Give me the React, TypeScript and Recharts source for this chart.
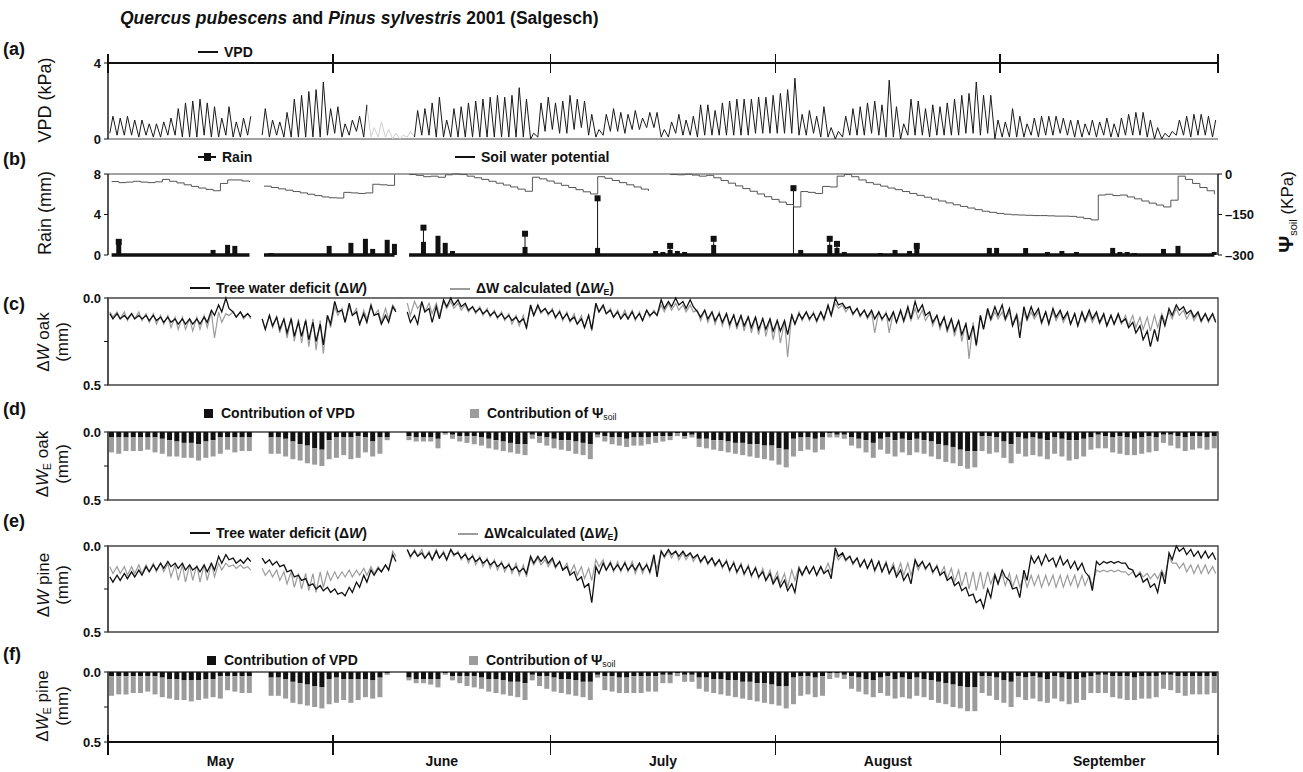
import React from "react";
import {
  ComposedChart,
  Line,
  Bar,
  XAxis,
  YAxis,
  ReferenceLine,
  ReferenceArea,
} from "recharts";

const FONT = '"Liberation Sans", Arial, Helvetica, sans-serif';
const INK = "#111";
const GREY = "#9c9c9c";
const FRAME = "#444";
const W = 1303;
const PLOT_LEFT = 108;
const PLOT_RIGHT = 1218;
const AXIS_W = 40;
const RIGHT_AXIS_W = 60;

const MONTHS = ["May", "June", "July", "August", "September"];
const MONTH_START = [0, 31, 61, 92, 123, 153];
const MONTH_MID = MONTHS.map((_, i) => (MONTH_START[i] + MONTH_START[i + 1]) / 2);
const END_DAY = 153;

// light grey stretch of the VPD record (days from 1 May)
const FAINT_FROM = 36;
const FAINT_TO = 41;

type Pair = [number, number] | null;

// (a) daily VPD peak and trough, kPa
const vpdMax: (number | null)[] = [
  1.2, 1.1, 1.2, 1.0, 1.0, 0.8, 0.8, 0.9, 1.1, 1.6,
  1.9, 2.0, 2.1, 1.9, 1.7, 1.1, 1.7, 0.9, 1.1, 1.2,
  null, 1.6, 1.0, 0.9, 1.4, 2.1, 2.3, 2.5, 2.6, 3.0,
  1.6, 1.7, 0.8, 1.0, 1.2, 1.8, 0.6, 0.9, 0.5, 0.3,
  0.2, 0.4, 1.5, 1.6, 1.9, 2.2, 1.0, 1.6, 1.7, 1.9,
  2.0, 2.1, 2.2, 2.3, 2.2, 2.3, 2.7, 2.1, 0.3, 1.9,
  2.2, 1.9, 2.0, 2.3, 2.1, 2.0, 1.3, 0.5, 1.3, 1.6,
  1.4, 1.3, 1.5, 1.1, 1.4, 1.4, 0.5, 0.9, 1.3, 1.0,
  1.2, 1.8, 1.8, 1.5, 1.9, 2.0, 2.1, 2.1, 2.1, 2.2,
  2.2, 2.3, 2.4, 2.6, 3.2, 1.3, 1.5, 1.2, 1.7, 0.6,
  0.4, 1.2, 1.6, 1.7, 1.9, 2.0, 1.8, 3.1, 1.7, 0.8,
  2.1, 2.0, 1.6, 1.8, 1.7, 1.9, 2.1, 2.3, 2.4, 3.0,
  2.3, 2.3, 1.0, 0.9, 1.6, 1.2, 0.8, 1.1, 1.2, 1.2,
  1.2, 1.1, 1.0, 1.0, 0.8, 1.0, 0.9, 1.1, 0.8, 1.1,
  1.3, 1.4, 1.4, 1.0, 0.6, 0.3, 0.4, 1.0, 1.2, 1.3,
  1.3, 1.2, 1.0,
];
const vpdMin: (number | null)[] = [
  0.3, 0.2, 0.2, 0.2, 0.1, 0.2, 0.1, 0.1, 0.2, 0.2,
  0.1, 0.1, 0.1, 0.2, 0.1, 0.1, 0.2, 0.1, 0.1, 0.2,
  null, 0.2, 0.1, 0.2, 0.1, 0.1, 0.1, 0.1, 0.1, 0.1,
  0.2, 0.3, 0.1, 0.2, 0.4, 0.1, 0.1, 0.1, 0.1, 0.0,
  0.0, 0.1, 0.1, 0.2, 0.2, 0.1, 0.1, 0.1, 0.1, 0.1,
  0.1, 0.1, 0.1, 0.1, 0.1, 0.1, 0.1, 0.1, 0.0, 0.1,
  0.4, 0.5, 0.3, 0.3, 0.5, 0.6, 0.2, 0.1, 0.2, 0.4,
  0.4, 0.3, 0.5, 0.5, 0.6, 0.6, 0.1, 0.1, 0.3, 0.2,
  0.2, 0.1, 0.2, 0.2, 0.2, 0.2, 0.2, 0.2, 0.2, 0.3,
  0.3, 0.3, 0.3, 0.3, 0.3, 0.2, 0.2, 0.3, 0.1, 0.1,
  0.0, 0.1, 0.2, 0.2, 0.2, 0.3, 0.2, 0.1, 0.1, 0.0,
  0.2, 0.2, 0.2, 0.1, 0.2, 0.2, 0.2, 0.2, 0.3, 0.3,
  0.2, 0.3, 0.0, 0.1, 0.1, 0.1, 0.1, 0.2, 0.1, 0.2,
  0.2, 0.3, 0.2, 0.1, 0.1, 0.2, 0.1, 0.2, 0.1, 0.1,
  0.2, 0.2, 0.2, 0.1, 0.0, 0.0, 0.1, 0.2, 0.2, 0.1,
  0.2, 0.2, 0.1,
];

// (b) soil water potential, kPa (daily)
const soilPsi: (number | null)[] = [
  -28, -32, -30, -27, -30, -32, -29, -20, -27, -33,
  -40, -46, -52, -57, -62, -35, -22, -22, -26, -30,
  null, -45, -50, -55, -60, -65, -70, -75, -80, -85,
  -88, -89, -68, -70, -72, -70, -38, -40, -42, -2,
  null, -2, -5, -10, -8, -12, -3, 0, -2, -8,
  -14, -20, -27, -34, -41, -48, -56, -64, -12, -18,
  -26, -34, -42, -50, -58, -66, -74, -10, -16, -24,
  -32, -40, -48, -56, -63, null, null, -2, -3, -1,
  -4, -8, -5, -14, -24, -34, -44, -54, -64, -74,
  -84, -94, -104, -113, -122, -65, -68, -72, -46, -48,
  -8, -2, -10, -22, -32, -38, -45, -52, -58, -65,
  -72, -79, -86, -93, -100, -107, -114, -120, -126, -132,
  -138, -142, -146, -149, -151, -152, -153, -154, -154, -155,
  -156, -156, -157, -160, -165, -170, -78, -75, -80, -78,
  -85, -92, -100, -108, -115, -122, -97, -8, -20, -35,
  -50, -62, -75,
];

// (b) rain, mm (daily blocks) and isolated peaks
const rainMm: (number | null)[] = [
  0, 1.1, 0, 0, 0, 0, 0, 0, 0, 0,
  0, 0, 0, 0, 0.5, 0, 1.0, 0.9, 0, 0,
  null, 0, 0.2, 0, 0, 0, 0, 0, 0, 0,
  0.9, 0, 0, 1.2, 0, 1.6, 0.6, 0, 1.5, 1.1,
  null, 0, 0, 1.3, 0, 1.9, 1.2, 0.4, 0, 0,
  0, 0, 0, 0, 0, 0, 0, 0.8, 0, 0,
  0, 0, 0, 0, 0, 0, 0, 0.7, 0, 0,
  0, 0, 0, 0, 0, 0.4, 0.3, 0.5, 0.4, 0.3,
  0.1, 0, 0, 1.0, 0, 0, 0, 0, 0, 0,
  0, 0, 0, 0, 0, 0.5, 0, 0, 0.1, 1.0,
  0.7, 0.3, 0, 0, 0, 0, 0.2, 0, 0.5, 0,
  0.4, 0.7, 0, 0, 0, 0, 0, 0, 0, 0,
  0, 0.7, 0.7, 0, 0, 0, 0.7, 0, 0, 0.3,
  0, 0.4, 0, 0.3, 0, 0, 0, 0, 0.7, 0.3,
  0.3, 0.2, 0, 0, 0, 0.6, 0, 0.9, 0, 0,
  0, 0, 0.3,
];
const rainPeakDay = [1, 43, 57, 67, 77, 83, 94, 99, 100, 111];
const rainPeakMm = [1.3, 2.7, 2.1, 5.6, 0.9, 1.6, 6.6, 1.6, 1.1, 0.9];

// (c) oak tree water deficit, daily [night, afternoon], mm
const oakObs: Pair[] = [
  [.09, .12], [.09, .12], [.10, .12], [.09, .12], [.10, .12], [.10, .13], [.10, .13], [.11, .14], [.11, .14], [.12, .15],
  [.12, .15], [.12, .15], [.12, .15], [.11, .14], [.07, .10], [.04, .08], [.00, .06], [.08, .11], [.08, .11], [.09, .11],
  null, [.12, .18], [.10, .16], [.11, .18], [.12, .20], [.12, .22], [.14, .22], [.13, .24], [.14, .25], [.15, .27],
  [.10, .15], [.02, .08], [.07, .14], [.03, .10], [.08, .15], [.09, .14], [.04, .10], [.09, .15], [.10, .14], [.05, .08],
  null, [.08, .14], [.10, .15], [.02, .08], [.06, .14], [.05, .12], [.01, .05], [.00, .04], [.01, .05], [.03, .07],
  [.05, .08], [.06, .09], [.07, .10], [.08, .11], [.09, .12], [.10, .13], [.11, .14], [.12, .17], [.04, .10], [.04, .08],
  [.06, .09], [.07, .11], [.08, .12], [.09, .13], [.11, .15], [.12, .17], [.10, .18], [.03, .08], [.04, .09], [.07, .11],
  [.08, .12], [.09, .12], [.08, .12], [.09, .13], [.07, .10], [.08, .10], [.01, .06], [.02, .05], [.00, .04], [.02, .06],
  [.01, .05], [.08, .11], [.07, .12], [.08, .13], [.09, .14], [.09, .15], [.10, .16], [.10, .16], [.11, .17], [.11, .18],
  [.12, .18], [.12, .19], [.13, .19], [.13, .21], [.10, .15], [.09, .12], [.08, .12], [.09, .13], [.08, .12], [.04, .10],
  [.00, .04], [.03, .06], [.05, .09], [.06, .10], [.07, .11], [.07, .12], [.08, .12], [.09, .13], [.08, .14], [.07, .13],
  [.05, .12], [.02, .08], [.04, .10], [.08, .14], [.10, .16], [.11, .18], [.12, .19], [.13, .21], [.15, .24], [.16, .27],
  [.10, .18], [.06, .12], [.05, .10], [.04, .12], [.06, .16], [.10, .23], [.05, .12], [.05, .10], [.06, .14], [.08, .15],
  [.06, .11], [.07, .12], [.08, .15], [.09, .16], [.08, .13], [.07, .12], [.08, .14], [.09, .16], [.10, .15], [.09, .14],
  [.12, .17], [.14, .20], [.16, .24], [.19, .28], [.18, .25], [.10, .16], [.06, .10], [.04, .07], [.05, .09], [.07, .11],
  [.08, .13], [.09, .13], [.09, .14],
];
const oakCalc: Pair[] = [
  [.08, .11], [.08, .12], [.08, .13], [.09, .12], [.08, .13], [.09, .14], [.09, .15], [.10, .15], [.10, .17], [.11, .18],
  [.11, .18], [.12, .19], [.11, .18], [.10, .17], [.08, .23], [.08, .14], [.09, .10], [.08, .11], [.08, .12], [.09, .12],
  null, [.12, .18], [.10, .17], [.11, .20], [.12, .23], [.11, .25], [.12, .26], [.12, .28], [.12, .30], [.13, .32],
  [.10, .17], [.05, .10], [.06, .14], [.05, .10], [.06, .16], [.07, .12], [.05, .10], [.07, .14], [.06, .12], [.04, .07],
  null, [.03, .10], [.02, .06], [.03, .08], [.03, .09], [.03, .10], [.02, .06], [.02, .06], [.03, .07], [.04, .08],
  [.05, .09], [.05, .10], [.06, .11], [.07, .12], [.08, .13], [.09, .15], [.10, .16], [.10, .18], [.05, .10], [.05, .09],
  [.06, .10], [.06, .12], [.07, .13], [.08, .14], [.09, .15], [.10, .17], [.10, .19], [.04, .08], [.05, .09], [.06, .11],
  [.07, .12], [.07, .12], [.07, .13], [.08, .13], [.07, .11], [.07, .10], [.04, .08], [.03, .07], [.03, .07], [.04, .08],
  [.04, .08], [.07, .13], [.07, .14], [.08, .15], [.08, .16], [.09, .17], [.09, .18], [.10, .19], [.10, .20], [.11, .21],
  [.11, .22], [.12, .24], [.12, .26], [.13, .34], [.09, .15], [.08, .13], [.08, .13], [.08, .14], [.08, .13], [.05, .10],
  [.03, .06], [.04, .08], [.05, .10], [.06, .11], [.07, .12], [.08, .20], [.08, .13], [.08, .20], [.08, .14], [.08, .14],
  [.07, .13], [.06, .12], [.07, .13], [.09, .16], [.10, .18], [.11, .20], [.12, .22], [.13, .25], [.14, .35], [.14, .28],
  [.10, .17], [.08, .13], [.08, .12], [.08, .13], [.08, .15], [.09, .16], [.08, .13], [.08, .12], [.08, .15], [.08, .14],
  [.08, .13], [.08, .14], [.09, .15], [.09, .16], [.09, .14], [.09, .14], [.09, .15], [.10, .16], [.10, .15], [.10, .15],
  [.10, .16], [.10, .17], [.11, .18], [.11, .19], [.10, .17], [.09, .14], [.08, .12], [.06, .10], [.07, .12], [.08, .13],
  [.09, .14], [.09, .14], [.09, .13],
];

// (d) oak modelled deficit split, mm
const oakVpd: (number | null)[] = [
  .04, .04, .04, .04, .04, .04, .04, .05, .06, .07,
  .08, .08, .09, .07, .06, .04, .04, .04, .04, .04,
  null, null, .04, .04, .05, .07, .09, .10, .12, .13,
  .06, .04, .04, .04, .03, .04, .07, .04, .04, null,
  null, .03, .04, .04, .04, .05, .01, .02, .03, .03,
  .03, .04, .05, .06, .07, .08, .09, .09, .02, .03,
  .04, .05, .06, .06, .07, .08, .09, .02, .03, .04,
  .04, .05, .04, .04, .04, .03, .03, .03, .01, .03,
  .02, .05, .05, .06, .06, .07, .08, .08, .09, .09,
  .10, .10, .12, .13, .05, .04, .04, .05, .04, .01,
  .02, .02, .04, .05, .06, .08, .05, .04, .06, .05,
  .06, .05, .06, .07, .09, .10, .11, .13, .14, .14,
  .03, .03, .04, .07, .09, .04, .05, .04, .05, .06,
  .04, .05, .06, .06, .05, .04, .02, .03, .04, .03,
  .04, .05, .04, .03, .04, .02, .02, .03, .04, .03,
  .03, .04, .03,
];
const oakSoil: (number | null)[] = [
  .11, .12, .10, .10, .10, .09, .11, .11, .12, .11,
  .11, .11, .12, .12, .12, .12, .09, .11, .10, .10,
  null, null, .12, .12, .13, .13, .12, .13, .12, .12,
  .14, .15, .13, .16, .16, .11, .11, .12, .02, null,
  null, .03, .03, .03, .03, .07, .01, .03, .04, .05,
  .06, .06, .07, .07, .07, .07, .07, .08, .03, .05,
  .06, .07, .07, .08, .09, .09, .11, .02, .04, .05,
  .06, .06, .06, .06, .05, .05, .04, .03, .02, .02,
  .02, .06, .07, .07, .08, .08, .08, .09, .09, .10,
  .10, .11, .12, .13, .13, .10, .09, .10, .09, .03,
  .02, .03, .06, .07, .09, .11, .08, .12, .12, .10,
  .11, .10, .10, .11, .11, .12, .12, .12, .13, .12,
  .11, .13, .11, .12, .14, .12, .13, .13, .13, .14,
  .12, .13, .15, .14, .13, .09, .10, .09, .11, .13,
  .13, .12, .12, .12, .10, .06, .08, .09, .10, .10,
  .09, .09, .09,
];

// (e) pine tree water deficit, daily [night, afternoon], mm
const pineObs: Pair[] = [
  [.18, .21], [.17, .20], [.16, .19], [.15, .18], [.14, .17], [.12, .15], [.11, .14], [.10, .13], [.09, .12], [.10, .13],
  [.10, .14], [.11, .14], [.12, .15], [.11, .15], [.10, .14], [.06, .10], [.05, .08], [.07, .10], [.08, .10], [.07, .09],
  null, [.07, .10], [.08, .11], [.09, .12], [.11, .15], [.14, .18], [.17, .20], [.19, .23], [.22, .25], [.23, .26],
  [.24, .27], [.25, .28], [.27, .29], [.24, .27], [.21, .24], [.17, .21], [.14, .17], [.13, .15], [.11, .14], [.05, .09],
  null, [.02, .06], [.03, .06], [.04, .07], [.04, .08], [.03, .07], [.04, .08], [.02, .05], [.04, .07], [.05, .08],
  [.06, .09], [.07, .10], [.08, .11], [.09, .12], [.10, .13], [.11, .14], [.12, .15], [.13, .16], [.06, .10], [.06, .09],
  [.06, .10], [.07, .12], [.09, .14], [.12, .17], [.15, .20], [.18, .24], [.22, .33], [.12, .16], [.10, .14], [.10, .14],
  [.11, .14], [.10, .14], [.11, .14], [.10, .14], [.11, .15], [.05, .18], [.03, .06], [.02, .05], [.03, .06], [.03, .06],
  [.04, .07], [.05, .09], [.06, .10], [.07, .11], [.08, .12], [.09, .14], [.10, .15], [.11, .16], [.12, .17], [.13, .18],
  [.15, .20], [.16, .22], [.18, .24], [.20, .26], [.22, .27], [.13, .17], [.12, .16], [.12, .17], [.12, .16], [.14, .19],
  [.01, .06], [.04, .08], [.06, .10], [.07, .12], [.08, .13], [.08, .14], [.09, .15], [.10, .16], [.12, .18], [.14, .20],
  [.16, .22], [.08, .12], [.09, .13], [.10, .15], [.12, .17], [.15, .20], [.18, .23], [.21, .26], [.24, .29], [.28, .33],
  [.31, .36], [.25, .30], [.17, .22], [.14, .18], [.20, .25], [.24, .30], [.14, .20], [.06, .10], [.06, .11], [.05, .09],
  [.07, .12], [.06, .11], [.08, .13], [.09, .14], [.10, .15], [.18, .26], [.09, .11], [.09, .10], [.09, .10], [.09, .10],
  [.10, .13], [.14, .18], [.16, .21], [.19, .24], [.22, .27], [.15, .22], [.04, .08], [.00, .03], [.01, .05], [.02, .06],
  [.03, .07], [.03, .07], [.04, .08],
];
const pineCalc: Pair[] = [
  [.12, .16], [.12, .16], [.12, .17], [.12, .16], [.11, .16], [.11, .15], [.10, .15], [.10, .15], [.10, .18], [.11, .20],
  [.11, .21], [.11, .20], [.11, .21], [.11, .20], [.10, .18], [.10, .14], [.10, .12], [.11, .13], [.11, .13], [.12, .14],
  null, [.13, .17], [.14, .18], [.14, .20], [.15, .22], [.15, .24], [.16, .25], [.16, .26], [.16, .27], [.15, .24],
  [.15, .20], [.15, .19], [.15, .18], [.14, .18], [.14, .17], [.13, .17], [.12, .16], [.12, .15], [.11, .14], [.03, .06],
  null, [.02, .07], [.02, .06], [.02, .07], [.03, .08], [.02, .07], [.03, .08], [.02, .06], [.03, .08], [.04, .10],
  [.05, .11], [.06, .12], [.07, .13], [.08, .14], [.09, .15], [.10, .16], [.10, .17], [.11, .18], [.07, .11], [.07, .11],
  [.08, .12], [.08, .13], [.09, .14], [.10, .16], [.11, .17], [.12, .19], [.13, .20], [.08, .12], [.08, .14], [.09, .15],
  [.09, .15], [.09, .15], [.09, .16], [.10, .16], [.10, .16], [.08, .13], [.03, .07], [.03, .07], [.03, .08], [.04, .08],
  [.04, .09], [.05, .10], [.06, .11], [.07, .12], [.08, .13], [.08, .15], [.09, .16], [.10, .17], [.11, .18], [.12, .19],
  [.13, .20], [.14, .21], [.15, .22], [.16, .24], [.14, .20], [.12, .16], [.12, .16], [.12, .17], [.12, .16], [.10, .15],
  [.04, .08], [.05, .09], [.06, .11], [.07, .12], [.08, .13], [.08, .15], [.09, .15], [.09, .16], [.10, .17], [.10, .17],
  [.10, .17], [.09, .14], [.09, .14], [.10, .16], [.11, .17], [.12, .19], [.13, .21], [.14, .23], [.15, .25], [.15, .26],
  [.15, .25], [.15, .22], [.16, .22], [.16, .23], [.16, .24], [.17, .24], [.17, .24], [.17, .23], [.17, .24], [.17, .23],
  [.17, .24], [.17, .24], [.17, .23], [.17, .24], [.17, .23], [.17, .23], [.14, .15], [.14, .15], [.14, .15], [.14, .15],
  [.15, .17], [.15, .18], [.15, .18], [.16, .19], [.16, .19], [.14, .18], [.06, .10], [.10, .13], [.10, .15], [.11, .16],
  [.11, .16], [.11, .16], [.12, .16],
];

// (f) pine modelled deficit split, mm
const pineVpd: (number | null)[] = [
  .03, .03, .03, .03, .03, .03, .03, .04, .05, .05,
  .06, .06, .06, .05, .05, .03, .03, .03, .03, .03,
  null, null, .04, .04, .05, .07, .08, .09, .10, .11,
  .05, .04, .05, .05, .05, .05, .06, .04, .01, null,
  null, .04, .05, .05, .05, .05, .01, .03, .03, .03,
  .03, .04, .05, .05, .06, .07, .07, .08, .02, .03,
  .03, .04, .05, .05, .06, .07, .07, .02, .03, .03,
  .04, .04, .03, .03, .03, .03, .02, .02, .01, .02,
  .02, .04, .04, .05, .05, .06, .06, .07, .07, .08,
  .08, .09, .10, .10, .04, .03, .03, .04, .03, .01,
  .01, .02, .03, .04, .05, .06, .04, .03, .05, .04,
  .05, .04, .05, .06, .07, .08, .09, .10, .11, .11,
  .03, .03, .04, .06, .07, .03, .04, .03, .04, .05,
  .03, .04, .05, .05, .04, .03, .02, .02, .03, .03,
  .03, .04, .03, .03, .03, .02, .02, .03, .03, .03,
  .03, .03, .03,
];
const pineSoil: (number | null)[] = [
  .14, .13, .13, .12, .12, .11, .13, .14, .14, .15,
  .14, .15, .14, .14, .13, .16, .10, .11, .12, .12,
  null, null, .13, .13, .14, .15, .15, .15, .15, .15,
  .18, .18, .15, .17, .15, .13, .13, .14, .01, null,
  null, .02, .03, .03, .04, .06, .01, .03, .05, .07,
  .08, .08, .09, .10, .10, .10, .11, .12, .04, .07,
  .09, .10, .10, .11, .11, .11, .13, .02, .10, .11,
  .11, .11, .12, .12, .11, .11, .06, .06, .02, .05,
  .05, .08, .10, .10, .11, .11, .12, .12, .13, .13,
  .14, .14, .14, .16, .19, .14, .13, .14, .14, .04,
  .03, .03, .09, .10, .11, .12, .11, .14, .14, .14,
  .14, .13, .13, .14, .15, .15, .16, .16, .17, .17,
  .12, .14, .16, .16, .18, .15, .16, .16, .17, .17,
  .16, .17, .18, .17, .16, .12, .13, .13, .15, .16,
  .17, .16, .16, .16, .15, .10, .11, .12, .14, .13,
  .13, .13, .12,
];

// ---- rows for Recharts ----
const inFaint = (d: number) => d >= FAINT_FROM && d <= FAINT_TO;
const lo = (p: Pair) => (p ? p[0] : null);
const hi = (p: Pair) => (p ? p[1] : null);

const lineRows: Record<string, number | null>[] = [];
vpdMax.forEach((_, d) => {
  const f = inFaint(d);
  lineRows.push({
    x: d + 0.25,
    vpd: f ? null : vpdMin[d],
    vpdFaint: f || inFaint(d - 1) ? vpdMin[d] : null,
    oakObs: lo(oakObs[d]),
    oakCalc: lo(oakCalc[d]),
    pineObs: lo(pineObs[d]),
    pineCalc: lo(pineCalc[d]),
  });
  lineRows.push({
    x: d + 0.68,
    vpd: f ? null : vpdMax[d],
    vpdFaint: f || inFaint(d + 1) ? vpdMax[d] : null,
    oakObs: hi(oakObs[d]),
    oakCalc: hi(oakCalc[d]),
    pineObs: hi(pineObs[d]),
    pineCalc: hi(pineCalc[d]),
  });
});

const dayRows = vpdMax.map((_, d) => {
  const k = rainPeakDay.indexOf(d);
  return {
    x: d + 0.5,
    rain: rainMm[d] ?? 0,
    rainBase: rainMm[d] === null ? null : 0,
    rainPeak: k >= 0 ? rainPeakMm[k] : 0,
    soil: soilPsi[d],
    oakVpd: oakVpd[d] ?? 0,
    oakSoil: oakSoil[d] ?? 0,
    pineVpd: pineVpd[d] ?? 0,
    pineSoil: pineSoil[d] ?? 0,
  };
});

// ---- shared bits ----
const TICK = { fontSize: 13, fontWeight: 700, fill: INK, fontFamily: FONT };
const margins = (top: number, bottom: number, right = W - PLOT_RIGHT) => ({
  top,
  bottom,
  left: PLOT_LEFT - AXIS_W,
  right,
});
const deficitFmt = (v: number) => (v === 0.25 ? "" : v.toFixed(1));

const monthTick = (up: number, down: number) => (props: any) => {
  const { x, y, payload } = props;
  const v = payload?.value;
  if (MONTH_START.includes(v)) {
    return (
      <line
        x1={x}
        x2={x}
        y1={y - up}
        y2={y + down}
        stroke={INK}
        strokeWidth={1.6}
        shapeRendering="crispEdges"
      />
    );
  }
  const i = MONTH_MID.indexOf(v);
  if (i < 0) return <g />;
  return (
    <text x={x} y={y + 24} textAnchor="middle" fontFamily={FONT} fontSize={14} fontWeight={700} fill={INK}>
      {MONTHS[i]}
    </text>
  );
};

const PeakShape = (props: any) => {
  const { x, y, width, height, payload } = props;
  if (!payload?.rainPeak || !height) return <g />;
  const cx = x + width / 2;
  return (
    <g>
      <line x1={cx} x2={cx} y1={y} y2={y + height} stroke={INK} strokeWidth={1} />
      <rect x={cx - 3} y={y - 3} width={6} height={6} fill={INK} />
    </g>
  );
};

function Box({ top, height, children }: { top: number; height: number; children: React.ReactNode }) {
  return <div style={{ position: "absolute", left: 0, top, width: W, height }}>{children}</div>;
}

function deficitAxis() {
  return (
    <YAxis
      domain={[0, 0.5]}
      reversed
      ticks={[0, 0.25, 0.5]}
      interval={0}
      tickFormatter={deficitFmt}
      width={AXIS_W}
      tick={TICK}
      tickSize={4}
      tickMargin={3}
      axisLine={{ stroke: FRAME, strokeWidth: 1.4 }}
      tickLine={{ stroke: INK }}
    />
  );
}

function VpdPanel() {
  return (
    <ComposedChart width={W} height={100} data={lineRows} margin={margins(13, 11)}>
      <XAxis type="number" dataKey="x" domain={[0, END_DAY]} hide allowDataOverflow />
      <YAxis
        domain={[0, 4]}
        ticks={[0, 4]}
        interval={0}
        width={AXIS_W}
        tick={TICK}
        tickSize={4}
        tickMargin={3}
        axisLine={{ stroke: INK, strokeWidth: 1.4 }}
        tickLine={{ stroke: INK }}
      />
      <ReferenceLine y={0} stroke={FRAME} strokeWidth={1} />
      <ReferenceLine y={4} stroke={INK} strokeWidth={2} />
      {MONTH_START.map((m) => (
        <ReferenceLine
          key={`month-${m}`}
          ifOverflow="visible"
          segment={[
            { x: m, y: 3.5 },
            { x: m, y: 4.45 },
          ]}
          stroke={INK}
          strokeWidth={1.8}
          shapeRendering="crispEdges"
        />
      ))}
      <Line dataKey="vpdFaint" stroke="#cfcfcf" strokeWidth={1} dot={false} isAnimationActive={false} />
      <Line dataKey="vpd" stroke="#1a1a1a" strokeWidth={1} dot={false} isAnimationActive={false} />
    </ComposedChart>
  );
}

function RainPanel() {
  return (
    <ComposedChart
      width={W}
      height={100}
      data={dayRows}
      margin={margins(9, 10, W - PLOT_RIGHT - RIGHT_AXIS_W)}
    >
      <XAxis type="number" dataKey="x" domain={[0, END_DAY]} hide allowDataOverflow />
      <XAxis xAxisId="peak" type="number" dataKey="x" domain={[0, END_DAY]} hide allowDataOverflow />
      <YAxis
        yAxisId="rain"
        domain={[0, 8]}
        ticks={[0, 4, 8]}
        interval={0}
        width={AXIS_W}
        tick={TICK}
        tickSize={4}
        tickMargin={3}
        axisLine={{ stroke: INK, strokeWidth: 1.4 }}
        tickLine={{ stroke: INK }}
      />
      <YAxis
        yAxisId="psi"
        orientation="right"
        domain={[-300, 0]}
        ticks={[-300, -150, 0]}
        interval={0}
        tickFormatter={(v: number) => (v === 0 ? "0" : `\u2013${Math.abs(v)}`)}
        width={RIGHT_AXIS_W}
        tick={TICK}
        tickSize={4}
        tickMargin={3}
        axisLine={{ stroke: INK, strokeWidth: 1.4 }}
        tickLine={{ stroke: INK }}
      />
      <ReferenceLine yAxisId="rain" y={8} stroke={FRAME} strokeWidth={1} />
      <Bar yAxisId="rain" dataKey="rain" fill={INK} barSize={5} isAnimationActive={false} />
      <Line
        yAxisId="rain"
        dataKey="rainBase"
        stroke={INK}
        strokeWidth={3.5}
        dot={false}
        isAnimationActive={false}
      />
      <Bar
        xAxisId="peak"
        yAxisId="rain"
        dataKey="rainPeak"
        barSize={5}
        shape={PeakShape}
        isAnimationActive={false}
      />
      <Line
        yAxisId="psi"
        type="stepAfter"
        dataKey="soil"
        stroke="#555"
        strokeWidth={1}
        dot={false}
        isAnimationActive={false}
      />
    </ComposedChart>
  );
}

function DeficitPanel({
  height,
  top,
  bottom,
  obsKey,
  calcKey,
}: {
  height: number;
  top: number;
  bottom: number;
  obsKey: string;
  calcKey: string;
}) {
  return (
    <ComposedChart width={W} height={height} data={lineRows} margin={margins(top, bottom)}>
      <XAxis type="number" dataKey="x" domain={[0, END_DAY]} hide allowDataOverflow />
      {deficitAxis()}
      <ReferenceArea x1={0} x2={END_DAY} y1={0} y2={0.5} fill="none" stroke={FRAME} strokeWidth={1.4} />
      <Line dataKey={calcKey} stroke={GREY} strokeWidth={1.2} dot={false} isAnimationActive={false} />
      <Line dataKey={obsKey} stroke={INK} strokeWidth={1.3} dot={false} isAnimationActive={false} />
    </ComposedChart>
  );
}

function SplitPanel({
  height,
  top,
  bottom,
  vpdKey,
  soilKey,
  months,
}: {
  height: number;
  top: number;
  bottom: number;
  vpdKey: string;
  soilKey: string;
  months?: boolean;
}) {
  return (
    <ComposedChart width={W} height={height} data={dayRows} margin={margins(top, bottom)}>
      {months ? (
        <XAxis
          type="number"
          dataKey="x"
          domain={[0, END_DAY]}
          height={30}
          ticks={[...MONTH_START, ...MONTH_MID].sort((a, b) => a - b)}
          interval={0}
          tickSize={0}
          tickMargin={0}
          tickLine={false}
          tick={monthTick(7, 13)}
          axisLine={{ stroke: INK, strokeWidth: 2 }}
          allowDataOverflow
        />
      ) : (
        <XAxis type="number" dataKey="x" domain={[0, END_DAY]} hide allowDataOverflow />
      )}
      {deficitAxis()}
      <ReferenceArea x1={0} x2={END_DAY} y1={0} y2={0.5} fill="none" stroke={FRAME} strokeWidth={1.4} />
      <Bar dataKey={vpdKey} stackId="s" fill={INK} barSize={5} isAnimationActive={false} />
      <Bar dataKey={soilKey} stackId="s" fill={GREY} barSize={5} isAnimationActive={false} />
    </ComposedChart>
  );
}

// ---- text ----
function Txt({ left, top, size = 14, bold = true, children }: any) {
  return (
    <div
      style={{
        position: "absolute",
        left,
        top,
        fontSize: size,
        fontWeight: bold ? 700 : 400,
        lineHeight: 1,
        whiteSpace: "nowrap",
      }}
    >
      {children}
    </div>
  );
}

function Key({ left, top, kind, color = INK, children }: any) {
  return (
    <div
      style={{
        position: "absolute",
        left,
        top,
        display: "flex",
        alignItems: "center",
        fontSize: 14,
        fontWeight: 700,
        lineHeight: 1,
        whiteSpace: "nowrap",
      }}
    >
      {kind === "line" && <span style={{ width: 20, height: 2, background: color, marginRight: 6 }} />}
      {kind === "square" && <span style={{ width: 9, height: 9, background: color, marginRight: 8 }} />}
      {kind === "marker" && (
        <span style={{ position: "relative", width: 18, height: 8, marginRight: 6 }}>
          <span style={{ position: "absolute", left: 0, top: 3, width: 18, height: 2, background: color }} />
          <span style={{ position: "absolute", left: 6, top: 0, width: 7, height: 8, background: color }} />
        </span>
      )}
      <span>{children}</span>
    </div>
  );
}

function Rot({ cx, cy, size = 17, children }: any) {
  return (
    <div
      style={{
        position: "absolute",
        left: cx,
        top: cy,
        transform: "translate(-50%, -50%) rotate(-90deg)",
        fontSize: size,
        lineHeight: 1,
        whiteSpace: "nowrap",
      }}
    >
      {children}
    </div>
  );
}

const sub = { fontSize: "0.62em", verticalAlign: "-0.25em" } as const;
const DW = (
  <>
    Δ<i>W</i>
  </>
);
const DWE = (
  <>
    Δ<i>W</i>
    <span style={sub}>E</span>
  </>
);
const PSI = (
  <>
    Ψ<span style={{ ...sub, fontWeight: 400 }}>soil</span>
  </>
);

export default function App() {
  return (
    <div
      style={{
        position: "absolute",
        left: 0,
        top: 0,
        width: W,
        height: 772,
        background: "#fff",
        fontFamily: FONT,
        color: INK,
        overflow: "hidden",
      }}
    >
      <Txt left={120} top={10} size={17.5}>
        <i>Quercus pubescens</i> and <i>Pinus sylvestris</i> 2001 (Salgesch)
      </Txt>

      <Box top={50} height={100}>
        <VpdPanel />
      </Box>
      <Box top={165} height={100}>
        <RainPanel />
      </Box>
      <Box top={290} height={105}>
        <DeficitPanel height={105} top={8} bottom={10} obsKey="oakObs" calcKey="oakCalc" />
      </Box>
      <Box top={425} height={85}>
        <SplitPanel height={85} top={7} bottom={10} vpdKey="oakVpd" soilKey="oakSoil" />
      </Box>
      <Box top={540} height={100}>
        <DeficitPanel height={100} top={6} bottom={8} obsKey="pineObs" calcKey="pineCalc" />
      </Box>
      <Box top={665} height={107}>
        <SplitPanel height={107} top={7} bottom={0} vpdKey="pineVpd" soilKey="pineSoil" months />
      </Box>

      {/* panel letters */}
      <Txt left={3} top={40} size={18}>(a)</Txt>
      <Txt left={3} top={150} size={18}>(b)</Txt>
      <Txt left={3} top={295} size={18}>(c)</Txt>
      <Txt left={3} top={400} size={18}>(d)</Txt>
      <Txt left={3} top={512} size={18}>(e)</Txt>
      <Txt left={3} top={645} size={18}>(f)</Txt>

      {/* legends */}
      <Key left={198} top={45} kind="line">VPD</Key>
      <Key left={198} top={150} kind="marker">Rain</Key>
      <Key left={455} top={150} kind="line">Soil water potential</Key>
      <Key left={190} top={281} kind="line">Tree water deficit ({DW})</Key>
      <Key left={450} top={281} kind="line" color={GREY}>
        ΔW calculated ({DWE})
      </Key>
      <Key left={204} top={406} kind="square">Contribution of VPD</Key>
      <Key left={470} top={406} kind="square" color={GREY}>Contribution of {PSI}</Key>
      <Key left={190} top={526} kind="line">Tree water deficit ({DW})</Key>
      <Key left={458} top={526} kind="line" color={GREY}>
        ΔWcalculated ({DWE})
      </Key>
      <Key left={207} top={653} kind="square">Contribution of VPD</Key>
      <Key left={469} top={653} kind="square" color={GREY}>Contribution of {PSI}</Key>

      {/* axis titles */}
      <Rot cx={45} cy={100} size={18}>VPD (kPa)</Rot>
      <Rot cx={45} cy={213} size={18}>Rain (mm)</Rot>
      <Rot cx={43} cy={342}>{DW} oak</Rot>
      <Rot cx={62} cy={342}>(mm)</Rot>
      <Rot cx={43} cy={464}>{DWE} oak</Rot>
      <Rot cx={62} cy={464}>(mm)</Rot>
      <Rot cx={43} cy={585}>{DW} pine</Rot>
      <Rot cx={62} cy={585}>(mm)</Rot>
      <Rot cx={43} cy={706}>{DWE} pine</Rot>
      <Rot cx={62} cy={706}>(mm)</Rot>
      <Rot cx={1287} cy={212} size={17}>
        <b style={{ fontSize: 21 }}>Ψ</b>
        <span style={{ fontSize: 11, verticalAlign: "-0.3em" }}>soil</span> (KPa)
      </Rot>
    </div>
  );
}
